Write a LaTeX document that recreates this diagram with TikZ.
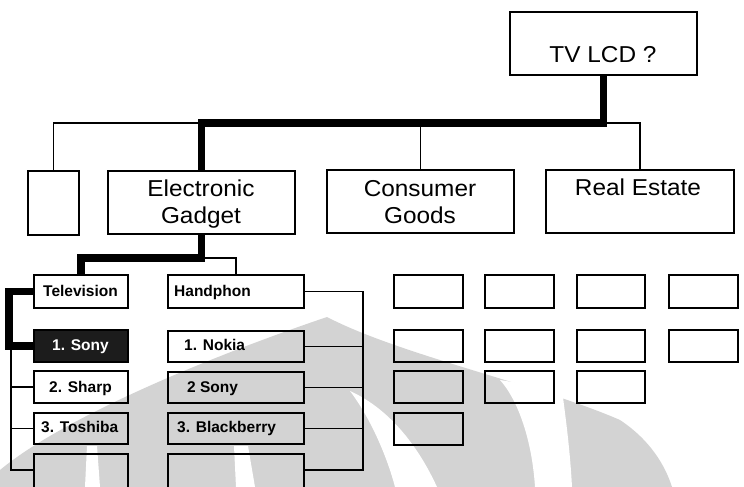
\documentclass[tikz,border=0pt]{standalone}
\usepackage{fontspec}
\setmainfont{Liberation Sans}
\newfontfamily\bigfont[FakeStretch=1.06]{Liberation Sans}
\definecolor{wm}{RGB}{211,211,211}
\definecolor{dk}{RGB}{28,28,28}
\newcommand\mybox[6][]{\node[box,#1,minimum width={(#4)-(#3)},minimum height={(#6)-(#5)}] (#2) at ({((#3)+(#4))/2},{((#5)+(#6))/2}) {};}
\begin{document}
\begin{tikzpicture}[x=1pt,y=-1pt,
  box/.style={draw=black, line width=1.8pt, inner sep=0pt, outer sep=0pt},
  thinln/.style={line width=1.6pt},
  thickln/.style={line width=7.5pt},
  bigtxt/.style={font=\bigfont\fontsize{23}{27.6}\selectfont, inner sep=0pt, anchor=base},
  smalltxt/.style={font=\bfseries\fontsize{15.5}{18}\selectfont, inner sep=0pt, anchor=base west},
]
\useasboundingbox (0,0) rectangle (744,487);
\clip (0,0) rectangle (744,487);
% watermark
\fill[wm] (0,470) .. controls (60,420) and (200,360) .. (327,317)
  .. controls (400,355) and (540,385) .. (620,420)
  .. controls (650,440) and (665,465) .. (672,487) -- (0,487) -- cycle;
\fill[white] (350,391) .. controls (372,420) and (388,460) .. (395,487) -- (437,487)
  .. controls (420,450) and (392,410) .. cycle;
\fill[white] (500,380) .. controls (518,400) and (532,440) .. (535,487) -- (572,487)
  .. controls (570,450) and (566,420) .. (562,390) -- cycle;
\fill[white] (87,446) -- (85,487) -- (100,487) -- (97,446) -- cycle;
\fill[white] (234,446) -- (236,487) -- (255,487) -- (248,446) -- cycle;
% top level boxes
\mybox{tvlcd}{510}{697}{12}{75}
\mybox{small}{28}{79}{171}{235}
\mybox{eg}{108}{295}{171}{234}
\mybox{cg}{327}{514}{170}{233}
\mybox{re}{546}{734}{170}{233}
% second level
\mybox{tele}{34}{128}{275}{308}
\mybox{hand}{168}{304}{275}{308}
\mybox[fill=dk]{sony}{34}{128}{330}{362}
\mybox{sharp}{34}{128}{371}{403}
\mybox{tosh}{34}{128}{413}{444}
\mybox{tvempty}{34}{128}{454}{495}
\mybox{nokia}{168}{304}{331}{362}
\mybox{hsony}{168}{304}{372}{403}
\mybox{black}{168}{304}{413}{444}
\mybox{hempty}{168}{304}{454}{495}
% grid of empty boxes
\mybox{g11}{394}{463}{275}{308}
\mybox{g12}{485}{554}{275}{308}
\mybox{g13}{577}{645}{275}{308}
\mybox{g14}{669}{738}{275}{308}
\mybox{g21}{394}{463}{330}{362}
\mybox{g22}{485}{554}{330}{362}
\mybox{g23}{577}{645}{330}{362}
\mybox{g24}{669}{738}{330}{362}
\mybox{g31}{394}{463}{371}{403}
\mybox{g32}{485}{554}{371}{403}
\mybox{g33}{577}{645}{371}{403}
\mybox{g41}{394}{463}{413}{445}
% connectors
\draw[thinln] (small.north) -- ++(0,-48) -| (re.north);
\draw[thinln] (cg.north) -- ++(0,-47);
\draw[thickln] (tvlcd.south) -- ++(0,48) -| (eg.north);
\draw[thinln] (eg.south) ++(0,24) -| (hand.north);
\draw[thickln] (eg.south) -- ++(0,24) -| (tele.north);
\draw[thickln] (tele.west) -- ++(-25,0) |- (sony.west);
\draw[thinln] (sony.west) ++(-23,0) |- ([yshift=-16pt]tvempty.north west);
\draw[thinln] (sharp.west) -- ++(-23,0);
\draw[thinln] (tosh.west) -- ++(-23,0);
\draw[thinln] (hand.east) -- ++(59,0) |- ([yshift=-16pt]hempty.north east);
\draw[thinln] (nokia.east) -- ++(59,0);
\draw[thinln] (hsony.east) -- ++(59,0);
\draw[thinln] (black.east) -- ++(59,0);
% texts
\node[bigtxt] (t-tv) at (603,63) {TV LCD ?};
\node[bigtxt] (t-eg1) at (201,196) {Electronic};
\node[bigtxt] (t-eg2) at (201,223) {Gadget};
\node[bigtxt] (t-cg1) at (420,196) {Consumer};
\node[bigtxt] (t-cg2) at (420,223) {Goods};
\node[bigtxt] (t-re) at (638,195) {Real Estate};
\node[smalltxt] (t-tele) at (43,296) {Television};
\node[smalltxt] (t-hand) at (174,296) {Handphon};
\node[smalltxt, text=white] (t-sony) at (52,350) {1. Sony};
\node[smalltxt] (t-sharp) at (49,392) {2. Sharp};
\node[smalltxt] (t-tosh) at (41,432) {3. Toshiba};
\node[smalltxt] (t-nokia) at (184,350) {1. Nokia};
\node[smalltxt] (t-hsony) at (187,392) {2 Sony};
\node[smalltxt] (t-black) at (177,432) {3. Blackberry};
\end{tikzpicture}
\end{document}
